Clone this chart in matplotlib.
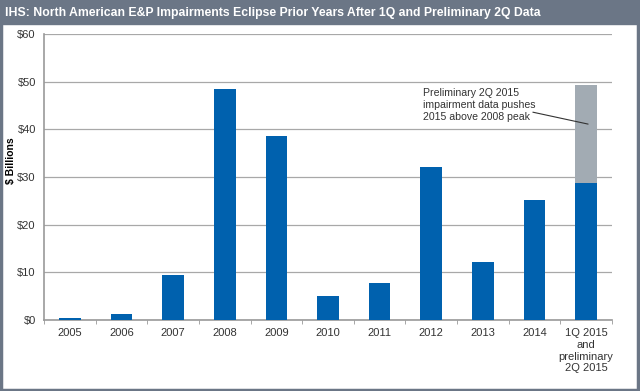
import matplotlib.pyplot as plt
import numpy as np
from matplotlib.patches import Rectangle

plt.rcParams['font.family'] = ['Liberation Sans', 'DejaVu Sans']

categories = ['2005', '2006', '2007', '2008', '2009', '2010', '2011', '2012',
              '2013', '2014', '1Q 2015\nand\npreliminary\n2Q 2015']
q1_values = [0.5, 1.3, 9.4, 48.5, 38.6, 5.0, 7.8, 32.0, 12.2, 25.1, 28.7]
q2_prelim = [0, 0, 0, 0, 0, 0, 0, 0, 0, 0, 20.5]
yticks = [0, 10, 20, 30, 40, 50, 60]

blue = '#0061ae'
grey = '#a2abb3'
frame = '#6b7686'

fig = plt.figure(figsize=(6.4, 3.91), dpi=100)

# title bar and outer frame
fig.patches.append(Rectangle((0, 0.938), 1, 0.062, transform=fig.transFigure,
                             color=frame, zorder=0))
fig.patches.append(Rectangle((0.002, 0.003), 0.995, 0.995, transform=fig.transFigure,
                             fill=False, edgecolor=frame, linewidth=2.5, zorder=5))
fig.text(0.008, 0.968, 'IHS: North American E&P Impairments Eclipse Prior Years After 1Q and Preliminary 2Q Data',
         color='white', fontsize=8.8, fontweight='bold', va='center', ha='left')

ax = fig.add_axes([0.069, 0.1816, 0.887, 0.7314])
x = np.arange(len(categories))
ax.bar(x, q1_values, width=0.42, color=blue, zorder=3)
ax.bar(x, q2_prelim, width=0.42, bottom=q1_values, color=grey, zorder=3)

ax.set_xlim(-0.5, len(categories) - 0.5)
ax.set_ylim(0, 60)
ax.set_yticks(yticks)
ax.set_yticklabels(['$%d' % v for v in yticks])
ax.yaxis.grid(True, color='#a8a8a8', linewidth=0.9, zorder=0)
ax.tick_params(axis='y', length=0, labelsize=8, colors='#333333', pad=6)

ax.set_xticks(x)
ax.set_xticklabels(categories)
ax.set_xticks(np.arange(-0.5, len(categories), 1), minor=True)
ax.tick_params(axis='x', which='major', length=0, labelsize=8, colors='#333333', pad=6)
ax.tick_params(axis='x', which='minor', length=3, color='#999999', direction='out')

for s in ['top', 'right']:
    ax.spines[s].set_visible(False)
for s in ['left', 'bottom']:
    ax.spines[s].set_color('#999999')
    ax.spines[s].set_linewidth(1.2)

ax.set_ylabel('$ Billions', fontsize=7.5, fontweight='bold')
ax.yaxis.set_label_coords(-0.05, 0.556)

ax.text(6.85, 48.6, 'Preliminary 2Q 2015\nimpairment data pushes\n2015 above 2008 peak',
        fontsize=7.6, color='#333333', va='top', ha='left', linespacing=1.2)
ax.annotate('', xy=(10.04, 41.1), xytext=(8.97, 43.6),
            arrowprops=dict(arrowstyle='-', color='#333333', linewidth=0.8,
                            shrinkA=0, shrinkB=0))

fig.savefig('out.png', dpi=100)
